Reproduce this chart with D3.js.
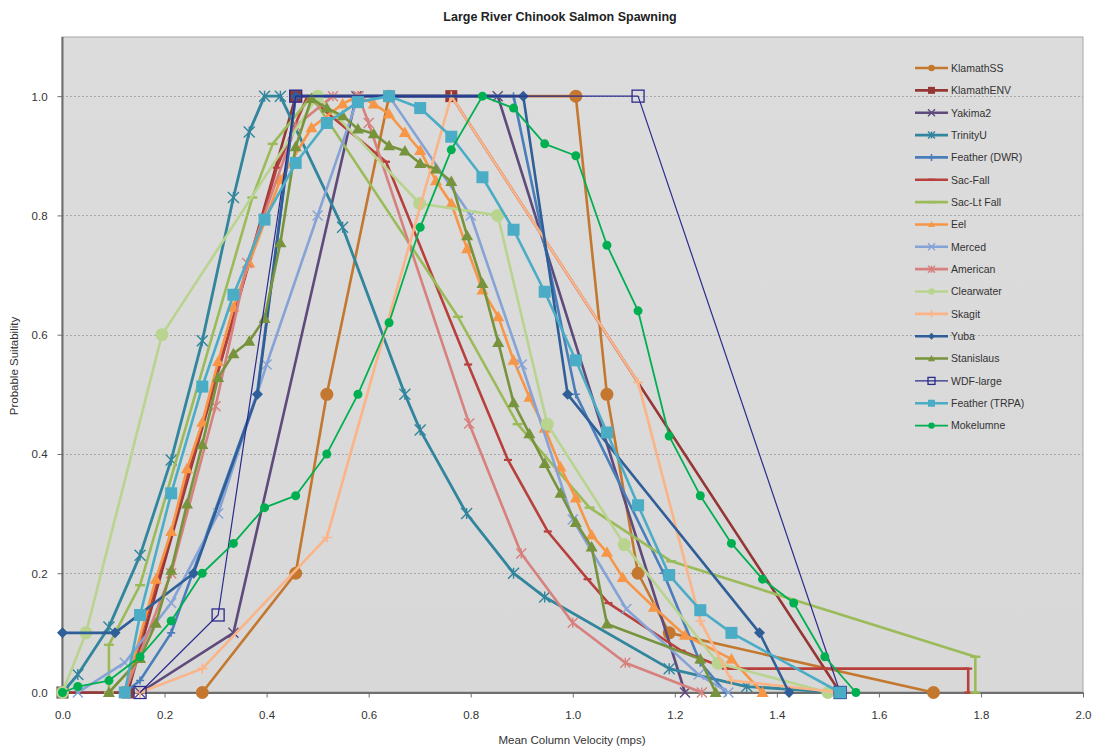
<!DOCTYPE html>
<html>
<head>
<meta charset="utf-8">
<script src="https://cdn.jsdelivr.net/npm/d3@7"></script>
<style>
  html, body { margin: 0; padding: 0; background: #ffffff; }
  svg { display: block; font-family: Arial, "Liberation Sans", sans-serif; }
</style>
</head>
<body>
<svg id="chart" width="1094" height="750"></svg>
<script>
// Habitat suitability curves: velocity (m/s) vs probable suitability
const klamathSS_x = [0.274, 0.457, 0.518, 0.640, 1.006, 1.067, 1.128, 1.189, 1.707];
const klamathSS_y = [0, 0.2, 0.5, 1.0, 1.0, 0.5, 0.2, 0.1, 0];

const klamathENV_x = [0, 0.128, 0.457, 0.762, 1.524];
const klamathENV_y = [0, 0, 1.0, 1.0, 0];

const yakima2_x = [0.152, 0.335, 0.576, 0.853, 1.220];
const yakima2_y = [0, 0.1, 1.0, 1.0, 0];

const trinityU_x = [0, 0.030, 0.091, 0.152, 0.213, 0.274, 0.335, 0.366, 0.396, 0.427, 0.549, 0.671, 0.701, 0.792, 0.884, 0.945, 1.189, 1.341, 1.524];
const trinityU_y = [0, 0.03, 0.11, 0.23, 0.39, 0.59, 0.83, 0.94, 1.0, 1.0, 0.78, 0.5, 0.44, 0.3, 0.2, 0.16, 0.04, 0.01, 0];

const featherDWR_x = [0.122, 0.152, 0.213, 0.381, 0.457, 0.884, 1.006, 1.178, 1.250, 1.300];
const featherDWR_y = [0, 0.02, 0.1, 0.5, 1.0, 1.0, 0.5, 0.2, 0.05, 0];

const sacFall_x = [0.122, 0.420, 0.480, 0.634, 0.795, 0.873, 0.951, 1.029, 1.070, 1.213, 1.300, 1.775, 1.775];
const sacFall_y = [0, 0.88, 1.0, 0.89, 0.55, 0.39, 0.27, 0.19, 0.15, 0.07, 0.04, 0.04, 0];

const sacLtFall_x = [0.091, 0.091, 0.152, 0.372, 0.412, 0.488, 0.775, 0.892, 1.033, 1.193, 1.789, 1.789];
const sacLtFall_y = [0, 0.08, 0.18, 0.83, 0.92, 1.0, 0.63, 0.45, 0.31, 0.22, 0.06, 0];

const eel_x = [0.122, 0.183, 0.213, 0.244, 0.274, 0.305, 0.335, 0.366, 0.427, 0.488, 0.549, 0.579, 0.610, 0.640, 0.671, 0.701, 0.732, 0.762, 0.793, 0.823, 0.854, 0.884, 0.915, 0.945, 0.976, 1.006, 1.037, 1.067, 1.098, 1.159, 1.220, 1.311, 1.372];
const eel_y = [0, 0.19, 0.27, 0.375, 0.453, 0.555, 0.646, 0.72, 0.86, 0.947, 0.987, 1.0, 0.987, 0.97, 0.939, 0.909, 0.858, 0.82, 0.744, 0.675, 0.63, 0.557, 0.495, 0.443, 0.378, 0.326, 0.264, 0.235, 0.193, 0.143, 0.096, 0.056, 0];

const merced_x = [0.030, 0.122, 0.213, 0.305, 0.400, 0.500, 0.580, 0.640, 0.800, 0.900, 1.000, 1.105, 1.247, 1.305];
const merced_y = [0, 0.05, 0.15, 0.3, 0.55, 0.8, 1.0, 1.0, 0.8, 0.55, 0.29, 0.14, 0.03, 0];

const american_x = [0.122, 0.213, 0.300, 0.362, 0.457, 0.530, 0.580, 0.600, 0.797, 0.899, 1.000, 1.103, 1.253];
const american_y = [0, 0.2, 0.48, 0.72, 0.95, 1.0, 1.0, 0.955, 0.451, 0.233, 0.117, 0.05, 0];

const clearwater_x = [0, 0.046, 0.195, 0.500, 0.700, 0.853, 0.950, 1.101, 1.285, 1.500];
const clearwater_y = [0, 0.1, 0.6, 1.0, 0.82, 0.8, 0.45, 0.248, 0.049, 0];

const skagit_x = [0.152, 0.274, 0.518, 0.762, 1.128, 1.250, 1.311, 1.524];
const skagit_y = [0, 0.04, 0.26, 1.0, 0.52, 0.12, 0.02, 0];

const yuba_x = [0, 0.103, 0.257, 0.382, 0.457, 0.903, 0.990, 1.366, 1.424];
const yuba_y = [0.1, 0.1, 0.2, 0.5, 1.0, 1.0, 0.5, 0.1, 0];

const stanislaus_x = [0.091, 0.152, 0.183, 0.213, 0.244, 0.274, 0.305, 0.335, 0.366, 0.396, 0.427, 0.457, 0.488, 0.518, 0.549, 0.579, 0.610, 0.640, 0.671, 0.701, 0.732, 0.762, 0.793, 0.823, 0.854, 0.884, 0.915, 0.945, 0.976, 1.006, 1.037, 1.067, 1.250, 1.280];
const stanislaus_y = [0, 0.057, 0.116, 0.205, 0.316, 0.416, 0.528, 0.568, 0.589, 0.627, 0.754, 0.915, 0.996, 0.98, 0.967, 0.945, 0.937, 0.917, 0.908, 0.887, 0.878, 0.857, 0.766, 0.686, 0.587, 0.486, 0.434, 0.384, 0.334, 0.285, 0.244, 0.115, 0.056, 0];

const wdfLarge_x = [0.152, 0.305, 0.457, 1.128, 1.524];
const wdfLarge_y = [0, 0.13, 1.0, 1.0, 0];

const featherTRPA_x = [0.122, 0.152, 0.213, 0.274, 0.335, 0.396, 0.457, 0.518, 0.579, 0.640, 0.701, 0.762, 0.823, 0.884, 0.945, 1.006, 1.067, 1.128, 1.189, 1.250, 1.311, 1.524];
const featherTRPA_y = [0, 0.13, 0.334, 0.513, 0.667, 0.793, 0.888, 0.955, 0.99, 1.0, 0.98, 0.932, 0.864, 0.776, 0.672, 0.557, 0.436, 0.314, 0.197, 0.138, 0.1, 0];

const mokelumne_x = [0, 0.030, 0.091, 0.152, 0.213, 0.274, 0.335, 0.396, 0.457, 0.518, 0.579, 0.640, 0.701, 0.762, 0.823, 0.884, 0.945, 1.006, 1.067, 1.128, 1.189, 1.250, 1.311, 1.372, 1.433, 1.494, 1.555];
const mokelumne_y = [0, 0.01, 0.02, 0.06, 0.12, 0.2, 0.25, 0.31, 0.33, 0.4, 0.5, 0.62, 0.78, 0.91, 1.0, 0.98, 0.92, 0.9, 0.75, 0.64, 0.43, 0.33, 0.25, 0.19, 0.15, 0.06, 0];

const seriesNames = ["KlamathSS", "KlamathENV", "Yakima2", "TrinityU", "Feather (DWR)", "Sac-Fall", "Sac-Lt Fall", "Eel", "Merced", "American", "Clearwater", "Skagit", "Yuba", "Stanislaus", "WDF-large", "Feather (TRPA)", "Mokelumne"];
const seriesX = [klamathSS_x, klamathENV_x, yakima2_x, trinityU_x, featherDWR_x, sacFall_x, sacLtFall_x, eel_x, merced_x, american_x, clearwater_x, skagit_x, yuba_x, stanislaus_x, wdfLarge_x, featherTRPA_x, mokelumne_x];
const seriesY = [klamathSS_y, klamathENV_y, yakima2_y, trinityU_y, featherDWR_y, sacFall_y, sacLtFall_y, eel_y, merced_y, american_y, clearwater_y, skagit_y, yuba_y, stanislaus_y, wdfLarge_y, featherTRPA_y, mokelumne_y];

const xTicks = [0, 0.2, 0.4, 0.6, 0.8, 1.0, 1.2, 1.4, 1.6, 1.8, 2.0];
const yTicks = [0, 0.2, 0.4, 0.6, 0.8, 1.0];

// Per-series drawing style
const styles = [
  { color: "#c4782f", width: 2.6, marker: "circle", size: 6.5 },
  { color: "#953735", width: 2.6, marker: "square", size: 12 },
  { color: "#5f4a7c", width: 2.6, marker: "x", size: 5 },
  { color: "#31859c", width: 2.8, marker: "star", size: 5.5 },
  { color: "#4a7ebb", width: 2.6, marker: "plus", size: 4 },
  { color: "#b8403c", width: 2.6, marker: "dash", size: 4 },
  { color: "#9bbb59", width: 2.6, marker: "bar", size: 5 },
  { color: "#f79646", width: 2.6, marker: "triangle", size: 6 },
  { color: "#85a3d6", width: 2.6, marker: "x", size: 5 },
  { color: "#d7817e", width: 2.6, marker: "star", size: 5 },
  { color: "#b9d48f", width: 2.6, marker: "circle", size: 6.5 },
  { color: "#fab487", width: 2.6, marker: "plus", size: 5 },
  { color: "#2f5f98", width: 2.6, marker: "diamond", size: 5.5 },
  { color: "#77933c", width: 2.6, marker: "triangle", size: 6 },
  { color: "#2b2b8c", width: 1.2, marker: "openSquare", size: 12 },
  { color: "#4bacc6", width: 2.6, marker: "square", size: 12 },
  { color: "#00b050", width: 1.8, marker: "circle", size: 4.5 }
];

const svg = d3.select("#chart");
const plot = { left: 62, right: 1083, top: 37, bottom: 692 };

const x = d3.scaleLinear().domain([0, 2.0]).range([plot.left + 0.5, plot.right]);
const y = d3.scaleLinear().domain([0, 1.1]).range([plot.bottom + 0.5, plot.top - 0.5]);

// Plot area background
const defs = svg.append("defs");
const grad = defs.append("linearGradient").attr("id", "bg").attr("x1", 0).attr("y1", 0).attr("x2", 0).attr("y2", 1);
grad.append("stop").attr("offset", "0%").attr("stop-color", "#dcdcdc");
grad.append("stop").attr("offset", "100%").attr("stop-color", "#d8d8d8");
svg.append("rect")
  .attr("x", plot.left).attr("y", plot.top)
  .attr("width", plot.right - plot.left).attr("height", plot.bottom - plot.top)
  .attr("fill", "url(#bg)")
  .attr("stroke", "#a6a6a6").attr("stroke-width", 1);

// Horizontal gridlines
svg.append("g").selectAll("line")
  .data(yTicks.filter(d => d > 0))
  .join("line")
  .attr("x1", plot.left).attr("x2", plot.right)
  .attr("y1", d => Math.round(y(d)) + 0.5).attr("y2", d => Math.round(y(d)) + 0.5)
  .attr("stroke", "#a8a8a8").attr("stroke-width", 1).attr("stroke-dasharray", "2,2");

// Axes
const xAxis = d3.axisBottom(x).tickValues(xTicks).tickFormat(d3.format(".1f")).tickSize(5).tickSizeOuter(0);
const yAxis = d3.axisLeft(y).tickValues(yTicks).tickFormat(d3.format(".1f")).tickSize(5).tickSizeOuter(0);

const gx = svg.append("g").attr("transform", `translate(0,${plot.bottom + 0.5})`).call(xAxis);
const gy = svg.append("g").attr("transform", `translate(${plot.left + 0.5},0)`).call(yAxis);
[gx, gy].forEach(g => {
  g.select(".domain").attr("stroke", "#6e6e6e").attr("stroke-width", 2);
  g.selectAll(".tick line").attr("stroke", "#6e6e6e");
  g.selectAll(".tick text").attr("fill", "#333").attr("font-size", 11.5).attr("font-family", "Arial, 'Liberation Sans', sans-serif");
});
gx.selectAll(".tick text").attr("dy", "1.65em");
gy.selectAll(".tick text").attr("dx", "-0.6em").attr("dy", "0.35em");
gy.select(".domain").attr("d", `M0,${plot.top}V${plot.bottom + 0.5}`);

// Titles
svg.append("text").attr("x", 560).attr("y", 21).attr("text-anchor", "middle")
  .attr("font-size", 12.5).attr("font-weight", "bold").attr("fill", "#222")
  .text("Large River Chinook Salmon Spawning");
svg.append("text").attr("x", 572).attr("y", 744).attr("text-anchor", "middle")
  .attr("font-size", 11.5).attr("fill", "#333")
  .text("Mean Column Velocity (mps)");
svg.append("text").attr("transform", "translate(18,366) rotate(-90)").attr("text-anchor", "middle")
  .attr("font-size", 11.5).attr("fill", "#333")
  .text("Probable Suitability");

// Marker renderer
function drawMarker(g, type, cx, cy, s, color) {
  switch (type) {
    case "circle":
      g.append("circle").attr("cx", cx).attr("cy", cy).attr("r", s).attr("fill", color);
      break;
    case "square":
      g.append("rect").attr("x", cx - s / 2).attr("y", cy - s / 2).attr("width", s).attr("height", s).attr("fill", color);
      break;
    case "openSquare":
      g.append("rect").attr("x", cx - s / 2).attr("y", cy - s / 2).attr("width", s).attr("height", s)
        .attr("fill", "none").attr("stroke", color).attr("stroke-width", 1.3);
      break;
    case "diamond":
      g.append("path").attr("d", `M${cx},${cy - s}L${cx + s},${cy}L${cx},${cy + s}L${cx - s},${cy}Z`).attr("fill", color);
      break;
    case "triangle":
      g.append("path").attr("d", `M${cx},${cy - s}L${cx + s},${cy + s * 0.75}L${cx - s},${cy + s * 0.75}Z`).attr("fill", color);
      break;
    case "x":
      g.append("path").attr("d", `M${cx - s},${cy - s}L${cx + s},${cy + s}M${cx - s},${cy + s}L${cx + s},${cy - s}`)
        .attr("stroke", color).attr("stroke-width", 1.4);
      break;
    case "star":
      g.append("path").attr("d", `M${cx - s},${cy - s}L${cx + s},${cy + s}M${cx - s},${cy + s}L${cx + s},${cy - s}M${cx},${cy - s}L${cx},${cy + s}`)
        .attr("stroke", color).attr("stroke-width", 1.4);
      break;
    case "plus":
      g.append("path").attr("d", `M${cx - s},${cy}L${cx + s},${cy}M${cx},${cy - s}L${cx},${cy + s}`)
        .attr("stroke", color).attr("stroke-width", 1.6);
      break;
    case "dash":
      g.append("path").attr("d", `M${cx - s},${cy}L${cx + s},${cy}`).attr("stroke", color).attr("stroke-width", 2.2);
      break;
    case "bar":
      g.append("path").attr("d", `M${cx - s},${cy}L${cx + s},${cy}`).attr("stroke", color).attr("stroke-width", 2.4);
      break;
  }
}

const line = d3.line().x(d => x(d[0])).y(d => y(d[1]));
const plotG = svg.append("g");

seriesNames.forEach((name, i) => {
  const st = styles[i];
  const pts = seriesX[i].map((v, k) => [v, seriesY[i][k]]);
  const g = plotG.append("g").attr("class", "series");
  g.append("path").datum(pts).attr("d", line)
    .attr("fill", "none").attr("stroke", st.color).attr("stroke-width", st.width)
    .attr("stroke-linejoin", "round").attr("stroke-linecap", "round");
  pts.forEach(p => drawMarker(g, st.marker, x(p[0]), y(p[1]), st.size, st.color));
});

// Legend
const legend = svg.append("g");
const legendTop = 68, legendStep = 22.35;
seriesNames.forEach((name, i) => {
  const st = styles[i];
  const ly = legendTop + i * legendStep;
  const g = legend.append("g");
  g.append("line").attr("x1", 915).attr("x2", 948).attr("y1", ly).attr("y2", ly)
    .attr("stroke", st.color).attr("stroke-width", st.width);
  const ms = st.marker === "square" || st.marker === "openSquare" ? 7 : (st.marker === "circle" ? 3.2 : 3.5);
  drawMarker(g, st.marker, 931.5, ly, ms, st.color);
  g.append("text").attr("x", 951).attr("y", ly + 3.8).attr("font-size", 10.5).attr("fill", "#333").text(name);
});
</script>
</body>
</html>
